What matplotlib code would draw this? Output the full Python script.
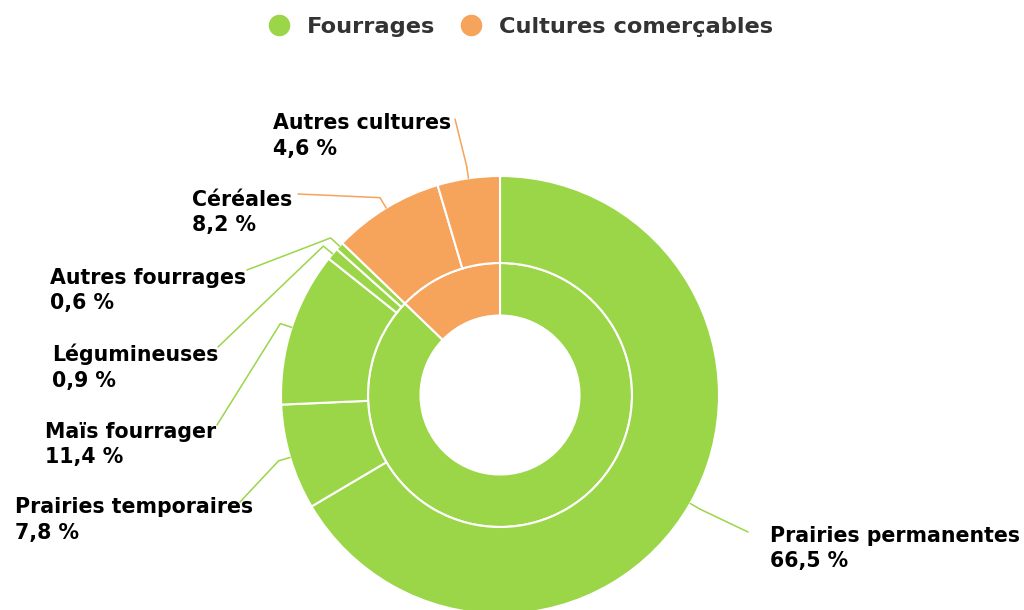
import matplotlib.pyplot as plt
import numpy as np

# Données : surfaces agricoles (%)
groupes = ['Fourrages', 'Cultures comerçables']
groupes_val = [87.2, 12.8]

cultures = ['Prairies permanentes', 'Prairies temporaires', 'Maïs fourrager',
            'Légumineuses', 'Autres fourrages', 'Céréales', 'Autres cultures']
cultures_val = [66.5, 7.8, 11.4, 0.9, 0.6, 8.2, 4.6]
cultures_groupe = [0, 0, 0, 0, 0, 1, 1]

vert = '#9BD648'
orange = '#F6A35B'
couleurs_groupes = [vert, orange]
couleurs_cultures = [couleurs_groupes[g] for g in cultures_groupe]

# Position des étiquettes (pixels, origine en haut à gauche) : x texte, ligne de base, point d'attache du trait
etiquettes = {
    'Prairies permanentes': (770, 542, 748, 532),
    'Prairies temporaires': (15, 513, 240, 502),
    'Maïs fourrager': (45, 438, 217, 425),
    'Légumineuses': (52, 361, 218, 347),
    'Autres fourrages': (50, 284, 247, 270),
    'Céréales': (192, 206, 298, 194),
    'Autres cultures': (273, 129, 455, 119),
}

W, H = 1024, 610
fig = plt.figure(figsize=(W / 100, H / 100), dpi=100)
ax = fig.add_axes([0, 0, 1, 1])

cx, cy = 500, H - 395
r_ext, r_mil, r_int = 219, 132, 79.5

ax.pie(groupes_val, colors=couleurs_groupes, radius=r_mil, center=(cx, cy),
       startangle=90, counterclock=False,
       wedgeprops=dict(width=r_mil - r_int, edgecolor='white', linewidth=1.5))
wedges, _ = ax.pie(cultures_val, colors=couleurs_cultures, radius=r_ext, center=(cx, cy),
                   startangle=90, counterclock=False,
                   wedgeprops=dict(width=r_ext - r_mil, edgecolor='white', linewidth=1.5))

ax.set_xlim(0, W)
ax.set_ylim(0, H)
ax.set_aspect('equal')
ax.axis('off')

# Étiquettes avec traits de liaison
for w, nom, val, coul in zip(wedges, cultures, cultures_val, couleurs_cultures):
    ang = np.deg2rad((w.theta1 + w.theta2) / 2)
    bord = (cx + r_ext * np.cos(ang), cy + r_ext * np.sin(ang))
    coude = (cx + (r_ext + 12) * np.cos(ang), cy + (r_ext + 12) * np.sin(ang))
    tx, ty, ax_, ay_ = etiquettes[nom]
    ax.plot([ax_, coude[0], bord[0]], [H - ay_, coude[1], bord[1]],
            color=coul, lw=1.1, solid_capstyle='round')
    ax.text(tx, H - ty, nom, ha='left', va='baseline', fontsize=14.8,
            fontweight='bold', color='black')
    ax.text(tx, H - ty - 25.5, f'{val:.1f} %'.replace('.', ','), ha='left',
            va='baseline', fontsize=14.8, fontweight='bold', color='black')

# Légende
poignees = [plt.Line2D([], [], marker='o', ls='', markersize=14.5, color=c) for c in couleurs_groupes]
leg = ax.legend(poignees, groupes, loc='center', bbox_to_anchor=(0.5 + 6 / W, 1 - 27 / H),
                ncol=2, frameon=False, handletextpad=0.55, columnspacing=0.9,
                handlelength=1.4, prop={'weight': 'bold', 'size': 16.2})
for t in leg.get_texts():
    t.set_color('#333333')

fig.savefig('out.png', dpi=100)
